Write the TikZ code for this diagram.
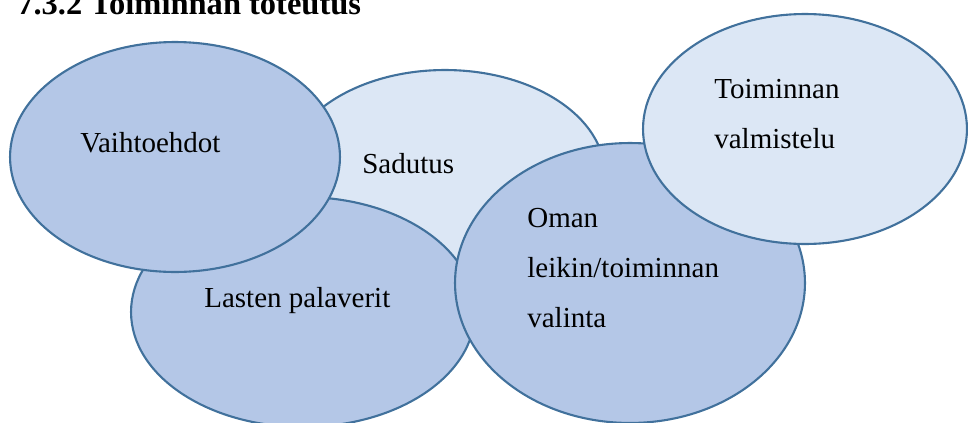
\documentclass[tikz,border=0pt]{standalone}
\usepackage{fontspec}
\setmainfont{Liberation Serif}
\usepackage{tikz}
\usetikzlibrary{shapes.geometric}
\definecolor{paleblue}{RGB}{220,231,245}
\definecolor{midblue}{RGB}{180,199,231}
\definecolor{rimblue}{RGB}{65,113,156}

\begin{document}
\begin{tikzpicture}[x=0.02cm, y=-0.02cm,
  bubble/.style={ellipse, draw=rimblue, line width=1.2pt, inner sep=0pt},
  caption/.style={anchor=base west, align=left, inner sep=0pt, font=\fontsize{16.5}{28.3}\selectfont}]
  \useasboundingbox (0,0) rectangle (968,423);
  % back to front
  \node[bubble, fill=paleblue, minimum width=6.4cm, minimum height=4.2cm] (sadutus) at (445,175) {};
  \node[bubble, fill=midblue, minimum width=6.88cm, minimum height=4.6cm] (lasten) at (303,312) {};
  \node[bubble, fill=midblue, minimum width=6.6cm, minimum height=4.6cm] (vaihto) at (175,157) {};
  \node[bubble, fill=midblue, minimum width=7.0cm, minimum height=5.6cm] (oman) at (630,283) {};
  \node[bubble, fill=paleblue, minimum width=6.48cm, minimum height=4.6cm] (valmistelu) at (805,129) {};

  % base of a multi-line caption = its last line
  \node[anchor=base west, inner sep=0pt, font=\fontsize{18.5}{22}\selectfont\bfseries] (title) at (17,14) {7.3.2 Toiminnan toteutus};
  \node[caption] (sadutus-text) at (362,173) {Sadutus};
  \node[caption] (lasten-text) at (204,307) {Lasten palaverit};
  \node[caption] (vaihto-text) at (80,152) {Vaihtoehdot};
  \node[caption] (oman-text) at (527,327) {Oman\\leikin/toiminnan\\valinta};
  \node[caption] (valmistelu-text) at (714,148) {Toiminnan\\valmistelu};
\end{tikzpicture}
\end{document}
